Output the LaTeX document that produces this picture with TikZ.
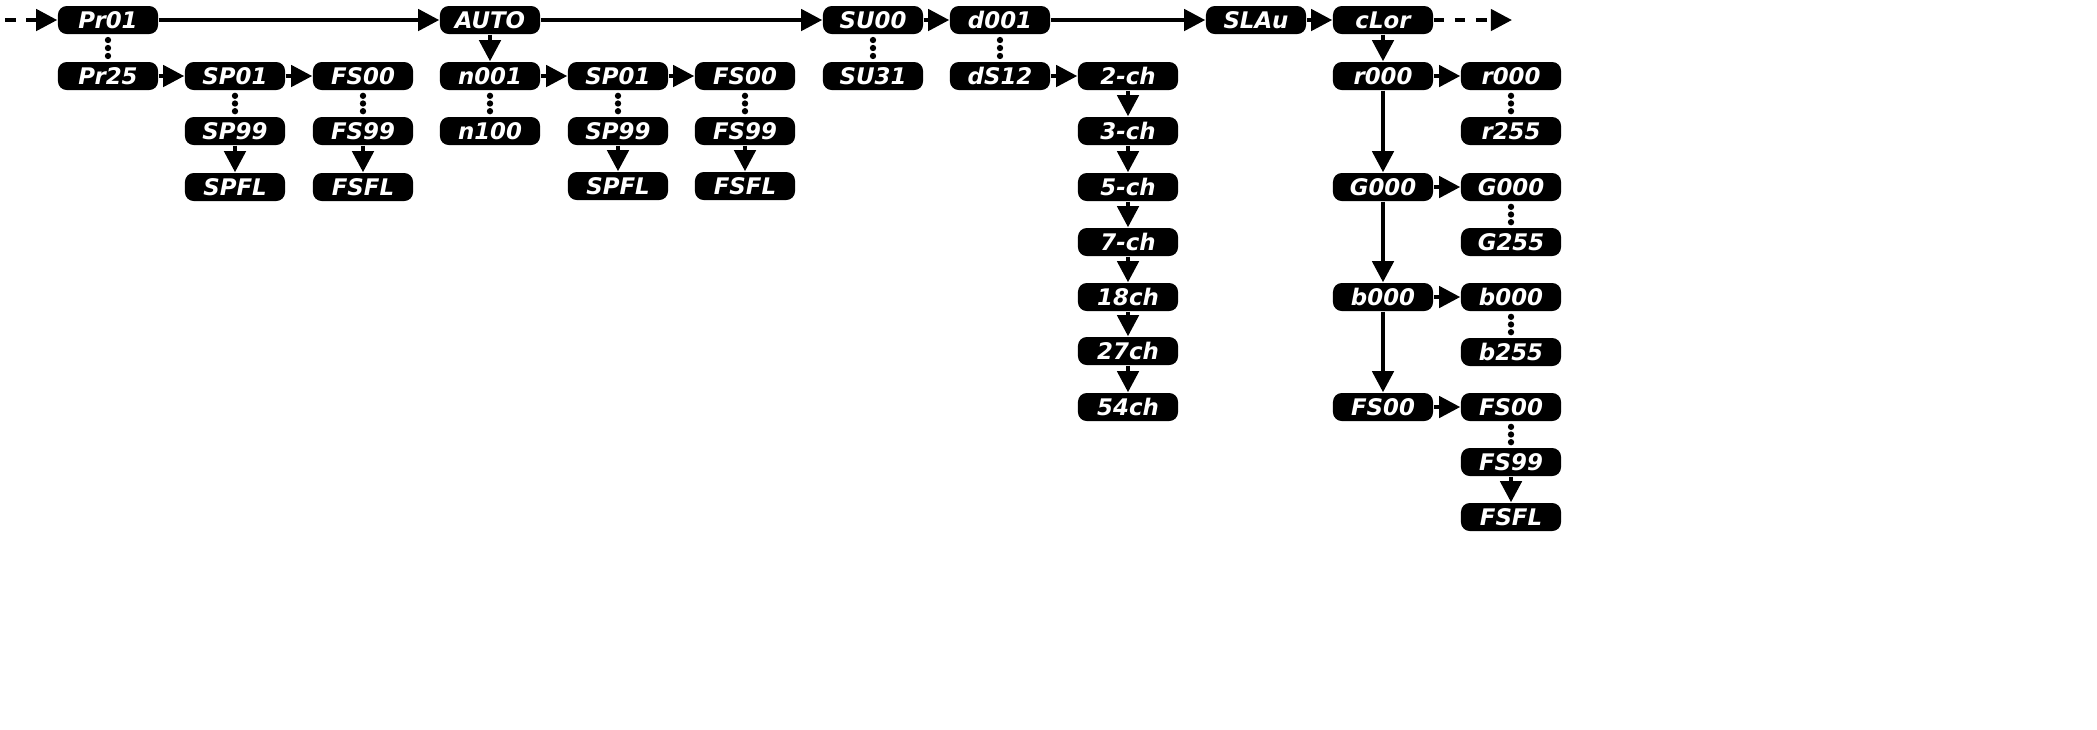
\documentclass[tikz,border=0pt]{standalone}
\usepackage{fontspec}
\setmainfont{DejaVu Sans}
\usetikzlibrary{arrows.meta}
\begin{document}
\begin{tikzpicture}[x=0.01cm, y=-0.01cm, >={Triangle[length=6pt,width=6pt]},
    box/.style={rectangle, rounded corners=2.5pt, fill=black, text=white,
        minimum width=1cm, minimum height=0.28cm, inner sep=0pt,
        font=\fontsize{6.5}{7}\selectfont\bfseries\itshape},
    link/.style={->, line width=1.2pt},
    dot/.style={circle, fill=black, inner sep=0pt, minimum size=1.8pt}]
        % Top row
        \node[box] (pr01) at (108,20) {Pr01};
        \node[box] (auto) at (490,20) {AUTO};
        \node[box] (su00) at (873,20) {SU00};
        \node[box] (d001) at (1000,20) {d001};
        \node[box] (slau) at (1256,20) {SLAu};
        \node[box] (clor) at (1383,20) {cLor};
        \coordinate (in) at (5,20);
        \coordinate (out) at (1512,20);
        
        % Program branch
        \node[box] (pr25) at (108,76) {Pr25};
        \node[box] (sp01a) at (235,76) {SP01};
        \node[box] (sp99a) at (235,131) {SP99};
        \node[box] (spfla) at (235,187) {SPFL};
        \node[box] (fs00a) at (363,76) {FS00};
        \node[box] (fs99a) at (363,131) {FS99};
        \node[box] (fsfla) at (363,187) {FSFL};
        
        % Auto branch
        \node[box] (n001) at (490,76) {n001};
        \node[box] (n100) at (490,131) {n100};
        \node[box] (sp01b) at (618,76) {SP01};
        \node[box] (sp99b) at (618,131) {SP99};
        \node[box] (spflb) at (618,186) {SPFL};
        \node[box] (fs00b) at (745,76) {FS00};
        \node[box] (fs99b) at (745,131) {FS99};
        \node[box] (fsflb) at (745,186) {FSFL};
        
        % Sound, DMX
        \node[box] (su31) at (873,76) {SU31};
        \node[box] (ds12) at (1000,76) {dS12};
        \foreach \t/\n/\y in {2-ch/ch2/76, 3-ch/ch3/131, 5-ch/ch5/187, 7-ch/ch7/242,
                18ch/ch18/297, 27ch/ch27/351, 54ch/ch54/407}
            \node[box] (\n) at (1128,\y) {\t};
        
        % Colour branch
        \node[box] (r000) at (1383,76) {r000};
        \node[box] (g000) at (1383,187) {G000};
        \node[box] (b000) at (1383,297) {b000};
        \node[box] (fs00c) at (1383,407) {FS00};
        \node[box] (r000r) at (1511,76) {r000};
        \node[box] (r255) at (1511,131) {r255};
        \node[box] (g000r) at (1511,187) {G000};
        \node[box] (g255) at (1511,242) {G255};
        \node[box] (b000r) at (1511,297) {b000};
        \node[box] (b255) at (1511,352) {b255};
        \node[box] (fs00r) at (1511,407) {FS00};
        \node[box] (fs99r) at (1511,462) {FS99};
        \node[box] (fsflr) at (1511,517) {FSFL};
        
        % Arrows
        \draw[link, dashed] (in) -- (pr01);
        \draw[link, dashed] (clor) -- (out);
        \draw[link] (pr01) -- (auto);
        \draw[link] (auto) -- (su00);
        \draw[link] (su00) -- (d001);
        \draw[link] (d001) -- (slau);
        \draw[link] (slau) -- (clor);
        \draw[link] (pr25) -- (sp01a);
        \draw[link] (sp01a) -- (fs00a);
        \draw[link] (sp99a) -- (spfla);
        \draw[link] (fs99a) -- (fsfla);
        \draw[link] (auto) -- (n001);
        \draw[link] (n001) -- (sp01b);
        \draw[link] (sp01b) -- (fs00b);
        \draw[link] (sp99b) -- (spflb);
        \draw[link] (fs99b) -- (fsflb);
        \draw[link] (ds12) -- (ch2);
        \draw[link] (ch2) -- (ch3);
        \draw[link] (ch3) -- (ch5);
        \draw[link] (ch5) -- (ch7);
        \draw[link] (ch7) -- (ch18);
        \draw[link] (ch18) -- (ch27);
        \draw[link] (ch27) -- (ch54);
        \draw[link] (clor) -- (r000);
        \draw[link] (r000) -- (g000);
        \draw[link] (g000) -- (b000);
        \draw[link] (b000) -- (fs00c);
        \draw[link] (r000) -- (r000r);
        \draw[link] (g000) -- (g000r);
        \draw[link] (b000) -- (b000r);
        \draw[link] (fs00c) -- (fs00r);
        \draw[link] (fs99r) -- (fsflr);
        
        % Ranges
        \foreach \a/\b in {pr01/pr25, sp01a/sp99a, fs00a/fs99a, n001/n100, sp01b/sp99b,
                fs00b/fs99b, su00/su31, d001/ds12, r000r/r255, g000r/g255, b000r/b255, fs00r/fs99r}
            \path (\a.south) -- (\b.north) node[dot, pos=0.2] {} node[dot, pos=0.5] {} node[dot, pos=0.8] {};
        
        \pgfresetboundingbox
        \useasboundingbox (0,0) rectangle (2097,729);
    \end{tikzpicture}
\end{document}
